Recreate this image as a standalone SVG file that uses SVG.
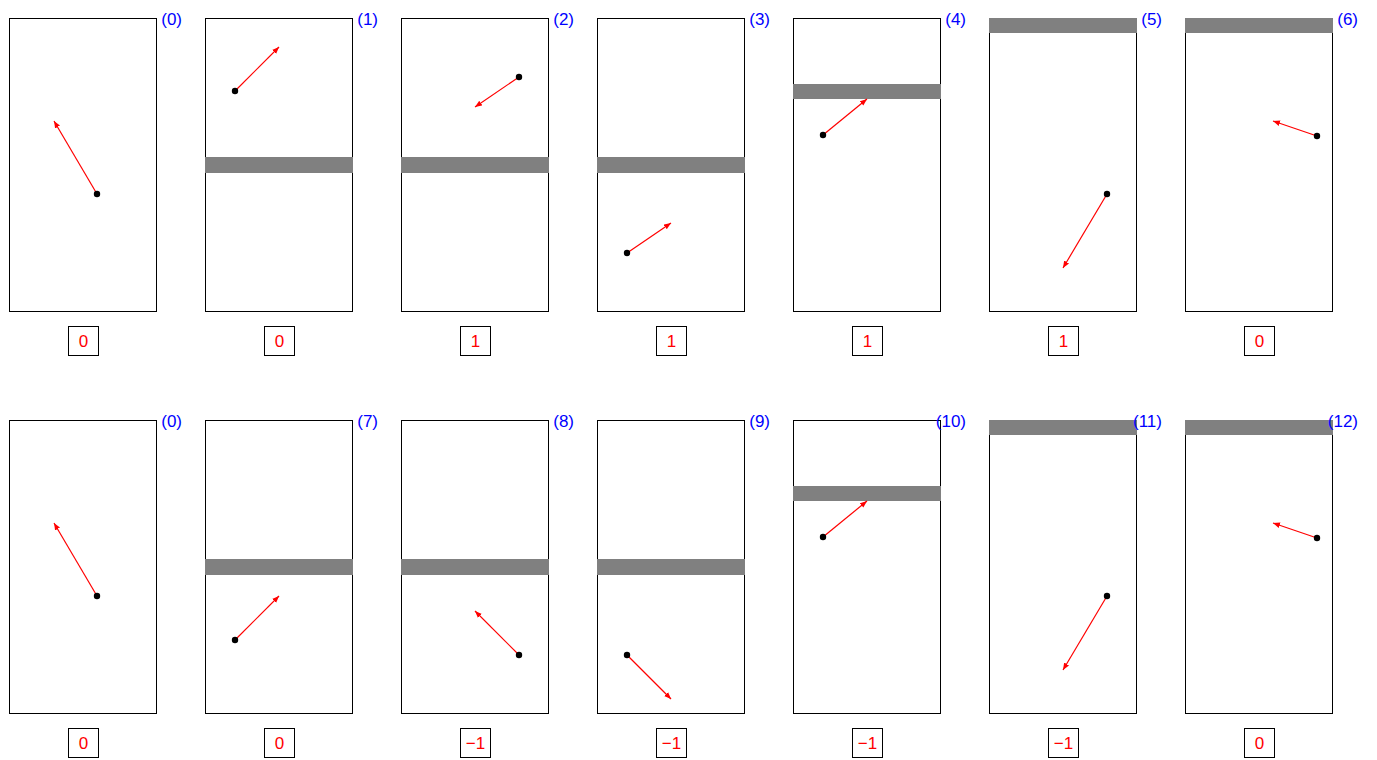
<svg xmlns="http://www.w3.org/2000/svg" width="1377" height="760" viewBox="0 0 1377 760">
<defs>
<style>
.panel{fill:#fff;stroke:#000;stroke-width:1}
.bar{fill:#808080}
.num{font-family:"Liberation Sans",Arial,sans-serif;font-size:17px;fill:#0000ff;text-anchor:end}
.vbox{fill:#fff;stroke:#000;stroke-width:1}
.val{font-family:"Liberation Sans",Arial,sans-serif;font-size:17px;fill:#ff0000;text-anchor:middle}
.arr{stroke:#ff0000;stroke-width:1.2;fill:none;marker-end:url(#ah)}
.dot{fill:#000}
</style>
<marker id="ah" viewBox="0 0 10 10" refX="10" refY="5" markerWidth="7" markerHeight="7" markerUnits="userSpaceOnUse" orient="auto">
<path d="M0,1 L10,5 L0,9 z" fill="#ff0000"/>
</marker>
</defs>
<g id="panels">
<g id="p0t"><rect class="panel" x="9.5" y="18.5" width="147" height="293"/><text class="num" x="182" y="25">(0)</text></g>
<g id="p1"><rect class="panel" x="205.5" y="18.5" width="147" height="293"/><rect class="bar" x="205" y="157" width="148" height="16"/><text class="num" x="378" y="25">(1)</text></g>
<g id="p2"><rect class="panel" x="401.5" y="18.5" width="147" height="293"/><rect class="bar" x="401" y="157" width="148" height="16"/><text class="num" x="574" y="25">(2)</text></g>
<g id="p3"><rect class="panel" x="597.5" y="18.5" width="147" height="293"/><rect class="bar" x="597" y="157" width="148" height="16"/><text class="num" x="770" y="25">(3)</text></g>
<g id="p4"><rect class="panel" x="793.5" y="18.5" width="147" height="293"/><rect class="bar" x="793" y="84" width="148" height="15"/><text class="num" x="966" y="25">(4)</text></g>
<g id="p5"><rect class="panel" x="989.5" y="18.5" width="147" height="293"/><rect class="bar" x="989" y="18" width="148" height="15"/><text class="num" x="1162" y="25">(5)</text></g>
<g id="p6"><rect class="panel" x="1185.5" y="18.5" width="147" height="293"/><rect class="bar" x="1185" y="18" width="148" height="15"/><text class="num" x="1358" y="25">(6)</text></g>
<g id="p0b"><rect class="panel" x="9.5" y="420.5" width="147" height="293"/><text class="num" x="182" y="427">(0)</text></g>
<g id="p7"><rect class="panel" x="205.5" y="420.5" width="147" height="293"/><rect class="bar" x="205" y="559" width="148" height="16"/><text class="num" x="378" y="427">(7)</text></g>
<g id="p8"><rect class="panel" x="401.5" y="420.5" width="147" height="293"/><rect class="bar" x="401" y="559" width="148" height="16"/><text class="num" x="574" y="427">(8)</text></g>
<g id="p9"><rect class="panel" x="597.5" y="420.5" width="147" height="293"/><rect class="bar" x="597" y="559" width="148" height="16"/><text class="num" x="770" y="427">(9)</text></g>
<g id="p10"><rect class="panel" x="793.5" y="420.5" width="147" height="293"/><rect class="bar" x="793" y="486" width="148" height="15"/><text class="num" x="966" y="427">(10)</text></g>
<g id="p11"><rect class="panel" x="989.5" y="420.5" width="147" height="293"/><rect class="bar" x="989" y="420" width="148" height="15"/><text class="num" x="1162" y="427">(11)</text></g>
<g id="p12"><rect class="panel" x="1185.5" y="420.5" width="147" height="293"/><rect class="bar" x="1185" y="420" width="148" height="15"/><text class="num" x="1358" y="427">(12)</text></g>
</g>
<g id="values">
<g><rect class="vbox" x="68.5" y="326.5" width="30" height="29"/><text class="val" x="83.5" y="347">0</text></g>
<g><rect class="vbox" x="264.5" y="326.5" width="30" height="29"/><text class="val" x="279.5" y="347">0</text></g>
<g><rect class="vbox" x="460.5" y="326.5" width="30" height="29"/><text class="val" x="475.5" y="347">1</text></g>
<g><rect class="vbox" x="656.5" y="326.5" width="30" height="29"/><text class="val" x="671.5" y="347">1</text></g>
<g><rect class="vbox" x="852.5" y="326.5" width="30" height="29"/><text class="val" x="867.5" y="347">1</text></g>
<g><rect class="vbox" x="1048.5" y="326.5" width="30" height="29"/><text class="val" x="1063.5" y="347">1</text></g>
<g><rect class="vbox" x="1244.5" y="326.5" width="30" height="29"/><text class="val" x="1259.5" y="347">0</text></g>
<g><rect class="vbox" x="68.5" y="728.5" width="30" height="29"/><text class="val" x="83.5" y="749">0</text></g>
<g><rect class="vbox" x="264.5" y="728.5" width="30" height="29"/><text class="val" x="279.5" y="749">0</text></g>
<g><rect class="vbox" x="460.5" y="728.5" width="30" height="29"/><text class="val" x="475.5" y="749">−1</text></g>
<g><rect class="vbox" x="656.5" y="728.5" width="30" height="29"/><text class="val" x="671.5" y="749">−1</text></g>
<g><rect class="vbox" x="852.5" y="728.5" width="30" height="29"/><text class="val" x="867.5" y="749">−1</text></g>
<g><rect class="vbox" x="1048.5" y="728.5" width="30" height="29"/><text class="val" x="1063.5" y="749">−1</text></g>
<g><rect class="vbox" x="1244.5" y="728.5" width="30" height="29"/><text class="val" x="1259.5" y="749">0</text></g>
</g>
<g id="connectors">
<line class="arr" x1="97" y1="194" x2="54" y2="121"/>
<line class="arr" x1="235" y1="91" x2="279" y2="47"/>
<line class="arr" x1="519" y1="77" x2="475" y2="107"/>
<line class="arr" x1="627" y1="253" x2="671" y2="223"/>
<line class="arr" x1="823" y1="135" x2="867" y2="99"/>
<line class="arr" x1="1107" y1="194" x2="1063" y2="268"/>
<line class="arr" x1="1317" y1="136" x2="1273" y2="121"/>
<line class="arr" x1="97" y1="596" x2="54" y2="523"/>
<line class="arr" x1="235" y1="640" x2="279" y2="596"/>
<line class="arr" x1="519" y1="655" x2="475" y2="611"/>
<line class="arr" x1="627" y1="655" x2="671" y2="699"/>
<line class="arr" x1="823" y1="537" x2="867" y2="501"/>
<line class="arr" x1="1107" y1="596" x2="1063" y2="670"/>
<line class="arr" x1="1317" y1="538" x2="1273" y2="523"/>
</g>
<g id="dots">
<circle class="dot" cx="97" cy="194" r="3.2"/>
<circle class="dot" cx="235" cy="91" r="3.2"/>
<circle class="dot" cx="519" cy="77" r="3.2"/>
<circle class="dot" cx="627" cy="253" r="3.2"/>
<circle class="dot" cx="823" cy="135" r="3.2"/>
<circle class="dot" cx="1107" cy="194" r="3.2"/>
<circle class="dot" cx="1317" cy="136" r="3.2"/>
<circle class="dot" cx="97" cy="596" r="3.2"/>
<circle class="dot" cx="235" cy="640" r="3.2"/>
<circle class="dot" cx="519" cy="655" r="3.2"/>
<circle class="dot" cx="627" cy="655" r="3.2"/>
<circle class="dot" cx="823" cy="537" r="3.2"/>
<circle class="dot" cx="1107" cy="596" r="3.2"/>
<circle class="dot" cx="1317" cy="538" r="3.2"/>
</g>
</svg>
